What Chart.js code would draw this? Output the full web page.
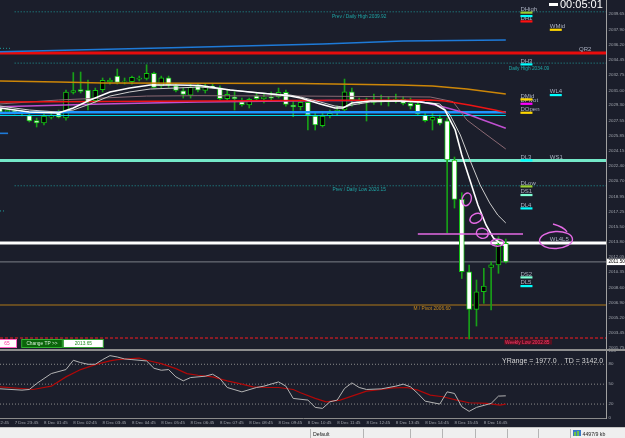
<!DOCTYPE html>
<html><head><meta charset="utf-8">
<script src="https://cdn.jsdelivr.net/npm/chart.js@4.4.1/dist/chart.umd.min.js"></script>
<style>
html,body{margin:0;padding:0;background:#1b1e2b;width:625px;height:438px;overflow:hidden;}
#main{position:absolute;left:0;top:0;}
#osc{position:absolute;left:0;top:349px;}
</style></head><body>
<canvas id="main" width="625" height="349"></canvas>
<canvas id="osc" width="625" height="89"></canvas>
<script>
// ---------------- DATA ----------------
const opens  = [2028.99,2028.53,2028.70,2028.42,2028.13,2027.57,2027.28,2027.96,2028.48,2027.85,
                2030.75,2031.09,2031.03,2029.82,2031.07,2031.94,2032.62,2032.00,2031.98,2032.28,
                2032.36,2032.93,2031.49,2032.43,2031.52,2030.95,2030.46,2031.49,2031.00,2031.49,
                2031.29,2030.04,2030.24,2029.70,2029.33,2030.38,2030.04,2030.24,2030.27,2030.77,
                2029.33,2029.13,2029.63,2028.08,2026.98,2028.11,2028.53,2028.76,2030.84,2029.63,
                2029.78,2029.63,2029.78,2029.67,2029.78,2029.98,2029.52,2029.41,2028.19,2027.62,
                2027.82,2027.54,2023.08,2018.61,2010.38,2006.11,2008.11,2010.88,2011.15,2013.61];
const highs  = [2029.21,2028.99,2028.87,2028.76,2028.31,2027.85,2028.31,2028.53,2028.76,2031.03,
                2033.02,2033.08,2032.17,2031.26,2032.40,2032.40,2033.42,2032.40,2032.62,2032.62,
                2033.91,2033.08,2032.62,2032.62,2031.71,2031.26,2031.71,2031.71,2031.71,2031.71,
                2031.52,2031.03,2030.84,2030.12,2030.12,2030.69,2030.58,2030.81,2031.26,2031.03,
                2029.78,2029.90,2029.90,2028.42,2028.42,2028.76,2029.21,2032.28,2031.26,2030.12,
                2030.12,2030.58,2030.46,2030.27,2030.58,2030.27,2030.12,2029.78,2028.53,2028.42,
                2028.19,2027.85,2023.42,2019.36,2011.15,2009.44,2010.77,2011.52,2014.36,2014.10];
const lows   = [2028.31,2028.42,2028.31,2028.08,2027.40,2026.83,2027.06,2027.74,2027.85,2027.62,
                2030.58,2030.69,2028.76,2029.56,2030.81,2031.71,2031.71,2031.71,2031.71,2032.06,
                2032.17,2031.26,2031.26,2031.34,2030.81,2030.12,2030.12,2030.81,2030.69,2031.26,
                2029.90,2029.90,2028.76,2029.21,2028.99,2029.90,2029.56,2029.78,2030.12,2029.21,
                2028.00,2028.76,2026.49,2026.49,2026.83,2027.85,2028.19,2028.53,2029.21,2029.41,
                2027.51,2029.41,2029.33,2029.21,2029.56,2029.33,2028.87,2028.19,2027.40,2026.49,
                2027.06,2014.78,2017.62,2009.61,2002.74,2004.21,2006.79,2006.03,2010.20,2011.37];
const closes = [2028.53,2028.76,2028.48,2028.53,2027.51,2027.28,2028.08,2028.13,2027.96,2030.81,
                2030.98,2030.86,2029.67,2031.00,2032.13,2032.17,2031.91,2032.06,2032.48,2032.40,
                2032.93,2031.34,2032.43,2031.63,2031.00,2030.54,2031.34,2031.03,2031.52,2031.34,
                2030.04,2030.54,2030.04,2029.36,2029.98,2030.04,2030.24,2030.12,2030.77,2029.41,
                2029.10,2029.63,2028.19,2027.06,2028.08,2028.38,2028.76,2030.84,2029.90,2029.78,
                2029.67,2029.78,2029.67,2029.82,2029.98,2029.52,2029.21,2028.31,2027.54,2027.93,
                2027.25,2023.08,2018.61,2010.38,2006.11,2008.11,2008.76,2011.18,2013.50,2011.50];

const priceTicks = [2041.35,2039.65,2037.90,2036.20,2034.45,2032.75,2031.00,2029.30,2027.55,2025.85,
                    2024.15,2022.40,2020.70,2018.95,2017.25,2015.50,2013.80,2012.05,2010.35,2008.60,
                    2006.90,2005.20,2003.45,2001.75];
const timeTickBars = [-2,2,6,10,14,18,22,26,30,34,38,42,46,50,54,58,62,66];
const timeLabels = ['7 Dec 22:45','7 Dec 23:45','8 Dec 01:45','8 Dec 02:45','8 Dec 03:45','8 Dec 04:45',
  '8 Dec 05:45','8 Dec 06:45','8 Dec 07:45','8 Dec 08:45','8 Dec 09:45','8 Dec 10:45','8 Dec 11:45',
  '8 Dec 12:45','8 Dec 13:45','8 Dec 14:45','8 Dec 15:45','8 Dec 16:45'];

// moving averages: [bar, price]
const emaFast = [[0,2028.99],[4,2028.53],[8,2028.42],[10,2028.99],[12.3,2029.90],[15,2030.81],[17.7,2031.26],
  [20.5,2031.60],[24,2031.60],[27.3,2031.55],[31.4,2031.03],[35.5,2030.69],[39.6,2030.35],[41,2030.12],
  [43.7,2029.45],[45.7,2028.99],[46.8,2028.99],[48,2029.56],[50.5,2029.78],[54.6,2029.78],[57.3,2029.67],
  [59.3,2029.45],[60.7,2028.76],[62.1,2026.49],[63,2023.65],[64.1,2020.81],[65.2,2017.97],[66.3,2015.70],
  [67.3,2014.22],[68.2,2013.65],[69,2013.31]];
const emaSlow = [[0,2029.21],[4,2028.76],[8,2028.53],[10,2028.76],[12.3,2029.45],[15,2030.35],[17.7,2030.81],
  [20.5,2031.15],[24,2031.26],[27.3,2031.38],[31.4,2031.03],[35.5,2030.69],[39.6,2030.46],[41,2030.24],
  [43.7,2029.67],[45.7,2029.21],[47,2029.10],[48,2029.33],[50.5,2029.67],[54.6,2029.78],[57.3,2029.67],
  [60,2029.45],[61.4,2028.19],[62.8,2025.92],[64.1,2023.08],[65.5,2020.24],[66.8,2018.20],[67.9,2016.83],[69,2015.92]];
const orangeMA  = [[0,2032.06],[8,2031.95],[14,2031.83],[41,2031.77],[54.5,2031.60],[59,2031.49],[63.7,2031.15],[69,2030.58]];
const blueUpper = [[0,2035.39],[22,2035.81],[44,2036.26],[55,2036.60],[69,2036.72]];
const redMA     = [[0,2029.67],[14,2029.73],[41,2029.84],[58.7,2029.90],[60.7,2029.79],[64,2029.33],[67.5,2028.76],[69,2028.48]];
const magentaMA = [[0,2029.14],[14,2029.45],[27,2029.67],[45,2029.84],[57,2029.79],[60.4,2029.14],[63,2028.53],[65.9,2027.62],[69,2026.68]];
const mauveMA   = [[0,2029.45],[8,2029.90],[20,2030.35],[27,2030.39],[41,2030.35],[58.7,2030.24],[61.8,2029.71],[63.7,2027.62],[65.5,2026.49],[69,2024.33]];
const blueBand  = [[0,2028.42],[8,2028.50],[69,2028.50]];
const cyanMA    = [[0,2028.14],[69,2028.14]];

// horizontal levels
const prevDailyHigh = 2039.92, qr2Level = 2035.24, dailyHigh = 2034.09, dl3Level = 2023.03;
const prevDailyLow = 2020.15, tpLevel = 2013.65, bidPrice = 2011.50, monthPivot = 2006.60, weeklyLow = 2002.85;
const prevDayStubs = [2035.77, 2026.11, 2017.29];
const pinkLine = 2014.67;

// level markers
const markerNames  = ['DHigh','','DH1','WMid','DH3','WL4','DMid','DPivot','DOpen','DL3','WS1','DLow','DS1','DL4','DS2','DL5','WL4L5'];
const markerLevels = [2039.84,2039.45,2038.84,2037.89,2033.96,2030.47,2029.98,2029.48,2028.46,2023.05,2023.05,2020.09,2019.11,2017.59,2009.75,2008.76,2013.65];
const markerColors = ['#9acd32','#00ffff','#ff1010','#ffd700','#00ffff','#00ffff','#ffd700','#ff00ff','#ffd700','#00ffff',null,'#9acd32','#7fffd4','#00ffff','#7fffd4','#00ffff',null];
const markerCols   = [71,71,71,75,71,75,71,71,71,71,75,71,71,71,71,71,75];

// hand-drawn circles [bar, price]
const scribbleBars   = [63.67, 64.94, 65.8, 67.85];
const scribblePrices = [2018.61, 2016.46, 2014.75, 2013.68];

// oscillator
const oscTicks = [0,20,50,80,100];
const oscMain = [[0,43],[3,41],[4,42],[5,51],[7,66],[9,72],[10,86],[11,82.5],[12,80],[13,80],[14,87],[15,93],[16,91],
  [17,88],[18,87],[20,85],[21,74],[22,71],[23,72],[24,61],[25,55],[26,60],[28,62],[29,65],[30,58.5],[31,45],[33,38.4],
  [35,45],[36,47],[38,53.4],[39,47],[40,28.5],[42,26],[43,15],[44,13.5],[45,23.4],[46,26],[47,43.5],[48,51.9],[49,45],
  [50,42],[52,42.9],[54,47],[55,50],[56,46],[57,36],[58,24.4],[60,20],[61,38.4],[62,36],[63,16],[64,9],[65,15],[67,21],[68,32],[69,32.4]];
const oscSignal = [[0,45.9],[3,43.5],[4.5,42],[7,47],[9,61],[11,72],[13,79.5],[15,85],[16,87],[19,89.4],[20,86],[22,81],
  [24,73.5],[25.5,66],[27,63.4],[29,61],[31,55],[33,50],[34.5,46],[36.5,45],[38,45],[40,42],[41,37],[43,28.5],[44.5,23.4],
  [46.4,26],[48,32],[50,39.4],[52,42],[53.6,44.4],[55.5,45],[57,41],[58.7,33.4],[60.4,31],[62.3,26],[64,22],[66.4,21],[68.2,18.4],[69,20]];
const oscLevels = [20,50,80];

// ---------------- CHARTS ----------------
Chart.defaults.font.family = "'Liberation Sans', Arial, sans-serif";
const X_MIN = 0, X_MAX = 82.67, Y_MIN = 2001.60, Y_MAX = 2041.264;

const pts = arr => arr.map(([x, y]) => ({x, y}));
function lineDs(arr, color, width, order, dash) {
  return {type:'line', data: pts(arr), borderColor: color, borderWidth: width, borderDash: dash || [],
          pointRadius: 0, tension: 0, fill: false, order};
}
function hline(v, color, width, order, dash, x0, x1) {
  return lineDs([[x0 === undefined ? X_MIN : x0, v], [x1 === undefined ? X_MAX : x1, v]], color, width, order, dash);
}

const bodyData = opens.map((o, i) => ({x: i, y: [o, closes[i]]}));
const wickData = opens.map((o, i) => ({x: i, y: [lows[i], highs[i]]}));
const bodyColors = opens.map((o, i) => closes[i] > o ? '#000000' : '#ffffff');

function ellipse(ctx, cx, cy, rx, ry, rot) {
  ctx.beginPath(); ctx.ellipse(cx, cy, rx, ry, rot, 0, Math.PI * 2); ctx.stroke();
}

const mainDeco = {
  id: 'mainDeco',
  afterDraw(chart) {
    const ctx = chart.ctx, xs = chart.scales.x, ys = chart.scales.y;
    const X = b => xs.getPixelForValue(b), Y = p => ys.getPixelForValue(p);
    ctx.save();
    ctx.textBaseline = 'alphabetic';
    // level captions
    ctx.font = "4.8px 'Liberation Sans'";
    ctx.fillStyle = '#1fa5a5'; ctx.textAlign = 'center';
    ctx.fillText('Prev / Daily High ' + prevDailyHigh.toFixed(2), X(49), Y(prevDailyHigh) + 6);
    ctx.fillText('Prev / Daily Low ' + prevDailyLow.toFixed(2), X(49), Y(prevDailyLow) + 5);
    ctx.textAlign = 'left';
    ctx.fillText('Daily High ' + dailyHigh.toFixed(2), X(69.4), Y(dailyHigh) + 6.5);
    ctx.fillStyle = '#c88a1c';
    ctx.fillText('M / Pivot ' + monthPivot.toFixed(2), X(56.4), Y(monthPivot) + 5);
    ctx.fillStyle = '#5a1020';
    ctx.fillRect(X(68.9) - 1, Y(weeklyLow) + 1.5, 48, 5);
    ctx.fillStyle = '#ff3868';
    ctx.fillText('Weekly Low ' + weeklyLow.toFixed(2), X(68.9), Y(weeklyLow) + 5.5);
    // marker texts
    ctx.font = "6px 'Liberation Sans'";
    ctx.fillStyle = '#aab0c0';
    markerNames.forEach((n, i) => { if (n) ctx.fillText(n, X(markerCols[i]), Y(markerLevels[i]) - 1.5); });
    ctx.fillText('QR2', X(79), Y(qr2Level) - 2.5);
    // marker bars
    markerColors.forEach((c, i) => {
      if (!c) return;
      ctx.fillStyle = c;
      ctx.fillRect(X(markerCols[i]), Y(markerLevels[i]) - 1, 12, 2.2);
    });
    // hand drawn pink
    ctx.strokeStyle = '#e46ae4'; ctx.lineWidth = 1.4;
    ctx.beginPath(); ctx.moveTo(X(57), Y(pinkLine)); ctx.lineTo(X(71.35), Y(pinkLine)); ctx.stroke();
    const radii = [[4.5, 6.5, 0.3], [6.5, 4.5, -0.5], [6, 5, 0.2], [6.5, 3.5, 0]];
    scribbleBars.forEach((b, i) => ellipse(ctx, X(b), Y(scribblePrices[i]), radii[i][0], radii[i][1], radii[i][2]));
    const bx = X(75.85), by = Y(2013.99);
    ellipse(ctx, bx, by, 16.5, 8.5, -0.05);
    ctx.beginPath(); ctx.moveTo(bx - 3, by - 16); ctx.quadraticCurveTo(bx + 8, by - 13, bx + 11, by - 8); ctx.stroke();
    // bid price box
    ctx.fillStyle = '#ffffff';
    ctx.fillRect(607, Y(bidPrice) - 3.2, 18, 6.4);
    ctx.fillStyle = '#000000'; ctx.font = "4.6px 'Liberation Sans'"; ctx.textBaseline = 'middle';
    ctx.fillText(bidPrice.toFixed(2), 608.5, Y(bidPrice));
    // countdown
    ctx.fillStyle = '#ffffff';
    ctx.fillRect(549, 3, 9, 3);
    ctx.font = "11px 'Liberation Sans'"; ctx.textBaseline = 'alphabetic';
    ctx.fillText('00:05:01', 560, 8);
    // trade panel boxes
    ctx.lineWidth = 1;
    ctx.fillStyle = '#ffffff'; ctx.fillRect(-5, 339.5, 21.5, 8);
    ctx.strokeStyle = '#ff5fbf'; ctx.strokeRect(-5, 339.5, 21.5, 8);
    ctx.fillStyle = '#0a640a'; ctx.fillRect(21.7, 339.5, 40.6, 8);
    ctx.strokeStyle = '#2fb02f'; ctx.strokeRect(21.7, 339.5, 40.6, 8);
    ctx.fillStyle = '#ffffff'; ctx.fillRect(63.3, 339.5, 40, 8);
    ctx.strokeStyle = '#2fa02f'; ctx.strokeRect(63.3, 339.5, 40, 8);
    ctx.font = "4.8px 'Liberation Sans'"; ctx.textBaseline = 'middle'; ctx.textAlign = 'center';
    ctx.fillStyle = '#ff3399'; ctx.fillText('65', 7, 343.6);
    ctx.fillStyle = '#d8f0d8'; ctx.fillText('Change TP >>', 42, 343.6);
    ctx.fillStyle = '#1f8f1f'; ctx.fillText(tpLevel.toFixed(2), 83.3, 343.6);
    ctx.restore();
  }
};

new Chart(document.getElementById('main'), {
  type: 'bar',
  data: { datasets: [
    lineDs(emaFast, '#ffffff', 1.6, 1),
    lineDs(emaSlow, '#cfcfcf', 1, 2),
    lineDs(redMA, '#ee1414', 1.6, 3),
    lineDs(magentaMA, '#c050d0', 1.5, 4),
    lineDs(mauveMA, '#8c6a74', 1, 5),
    lineDs(orangeMA, '#cc8608', 1.6, 6),
    lineDs(blueUpper, '#1e7ad8', 1.6, 6),
    lineDs(blueBand, '#1e96ff', 2.6, 6),
    lineDs(cyanMA, '#00d8e8', 1.2, 6),
    {type:'bar', data: bodyData, backgroundColor: bodyColors, borderColor: '#12c012', borderWidth: 1,
     borderSkipped: false, barThickness: 5, grouped: false, order: 8},
    {type:'bar', data: wickData, backgroundColor: '#18a018', borderWidth: 0, barThickness: 1, grouped: false, order: 9},
    hline(prevDailyHigh, '#1f9a9a', 1, 20, [1, 2], 2),
    hline(dailyHigh, '#1f9a9a', 1, 20, [1, 2], 2),
    hline(prevDailyLow, '#1f9a9a', 1, 20, [1, 2], 2),
    hline(qr2Level, '#e80c0c', 3.2, 21),
    hline(dl3Level, '#74e8c8', 3, 21),
    hline(tpLevel, '#ffffff', 3, 21),
    hline(bidPrice, '#7c8088', 1, 22),
    hline(monthPivot, '#b07818', 1, 22),
    hline(weeklyLow, '#8a1c26', 2, 22, [3, 2]),
    hline(prevDayStubs[0], '#1f9a9a', 1, 22, [1, 2], X_MIN, 1.6),
    hline(prevDayStubs[1], '#1e7ad8', 1.6, 22, [], X_MIN, 1.1),
    hline(prevDayStubs[2], '#1f9a9a', 1, 22, [1, 2], X_MIN, 0.7)
  ]},
  options: {
    responsive: false, animation: false, events: [],
    layout: { padding: 0 },
    plugins: { legend: {display: false}, tooltip: {enabled: false} },
    scales: {
      x: { type: 'linear', min: X_MIN, max: X_MAX, display: false, offset: false },
      y: { type: 'linear', position: 'right', min: Y_MIN, max: Y_MAX,
        afterBuildTicks: s => { s.ticks = priceTicks.map(v => ({value: v})); },
        afterFit: s => { s.width = 19; s.paddingTop = 0; s.paddingBottom = 0; },
        grid: { display: false, drawTicks: false },
        border: { display: true, color: '#a0a0a0', width: 1 },
        ticks: { color: '#a0a4ac', font: {size: 4.4}, padding: 2.5, autoSkip: false, callback: v => v.toFixed(2) }
      }
    }
  },
  plugins: [mainDeco]
});

const oscDeco = {
  id: 'oscDeco',
  afterDraw(chart) {
    const ctx = chart.ctx;
    ctx.save();
    ctx.fillStyle = '#8e8e8e'; ctx.fillRect(0, 0, 625, 2);
    ctx.fillStyle = '#d6d6d6'; ctx.font = "7px 'Liberation Sans'"; ctx.textBaseline = 'alphabetic'; ctx.textAlign = 'left';
    ctx.fillText('YRange = 1977.0    TD = 3142.0', 502, 13.8);
    // status bar
    ctx.fillStyle = '#efefef'; ctx.fillRect(0, 78, 625, 11);
    ctx.fillStyle = '#c4c4c4'; ctx.fillRect(0, 78, 625, 1);
    ctx.fillStyle = '#b4b4b4';
    [310, 363, 410, 442, 475, 507, 538, 570].forEach(x => ctx.fillRect(x, 80, 1, 9));
    ctx.fillStyle = '#222222'; ctx.font = "5.2px 'Liberation Sans'";
    ctx.fillText('Default', 313, 86.5);
    ctx.fillText('4497/9 kb', 582.5, 86.5);
    ctx.fillStyle = '#3a78c8'; ctx.fillRect(573, 81, 8, 6);
    ctx.fillStyle = '#6cc04a'; ctx.fillRect(574, 83, 2, 4); ctx.fillRect(577, 82, 2, 5);
    ctx.restore();
  }
};

new Chart(document.getElementById('osc'), {
  type: 'line',
  data: { datasets: [
    lineDs(oscMain, '#b4b4b4', 1, 1),
    lineDs(oscSignal, '#b00808', 1.2, 2),
    ...oscLevels.map(v => hline(v, '#8a8a8a', 1, 5, [1, 2]))
  ]},
  options: {
    responsive: false, animation: false, events: [],
    layout: { padding: {top: 2, bottom: 11, left: 0, right: 0} },
    plugins: { legend: {display: false}, tooltip: {enabled: false} },
    scales: {
      x: { type: 'linear', min: X_MIN, max: X_MAX, position: 'bottom', offset: false,
        afterBuildTicks: s => { s.ticks = timeTickBars.map(v => ({value: v})); },
        afterFit: s => { s.height = 9; s.paddingLeft = 0; s.paddingRight = 0; },
        grid: { display: false, drawTicks: false },
        border: { display: true, color: '#8a8a8a', width: 1 },
        ticks: { align: 'start', color: '#a0a4ac', font: {size: 4.4}, padding: 2, autoSkip: false,
                 maxRotation: 0, minRotation: 0, callback: (v, i) => timeLabels[i] }
      },
      y: { type: 'linear', position: 'right', min: -1, max: 100,
        afterBuildTicks: s => { s.ticks = oscTicks.map(v => ({value: v})); },
        afterFit: s => { s.width = 19; s.paddingTop = 0; s.paddingBottom = 0; },
        grid: { display: false, drawTicks: false },
        border: { display: true, color: '#a0a0a0', width: 1 },
        ticks: { color: '#a0a4ac', font: {size: 4.4}, padding: 2.5, autoSkip: false }
      }
    }
  },
  plugins: [oscDeco]
});
</script></body></html>
